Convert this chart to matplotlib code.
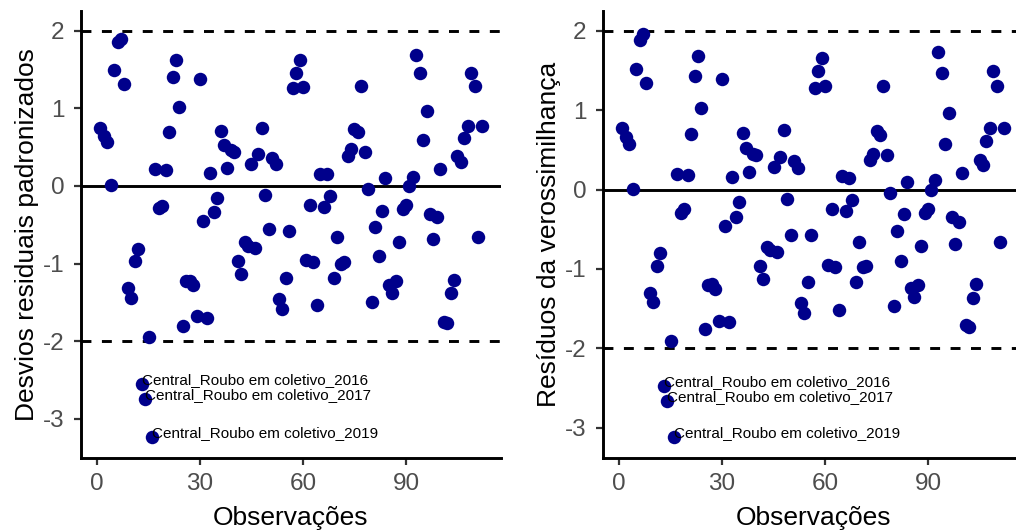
"""
Gráfico de resíduos do modelo: desvios residuais padronizados e
resíduos da verossimilhança contra o índice das observações.
"""

import numpy as np
import matplotlib
matplotlib.use("Agg")
import matplotlib.pyplot as plt

plt.rcParams['font.family'] = ['Liberation Sans', 'DejaVu Sans']
plt.rcParams['axes.unicode_minus'] = False

# ─── Dados ───
observacoes = np.arange(1, 113)

desvios_padronizados = [
    0.75, 0.64, 0.57, 0.01, 1.49, 1.85, 1.89, 1.32, -1.31, -1.44,
    -0.97, -0.81, -2.55, -2.75, -1.95, -3.24, 0.22, -0.29, -0.26, 0.20,
    0.69, 1.40, 1.63, 1.02, -1.80, -1.22, -1.23, -1.28, -1.68, 1.38,
    -0.45, -1.70, 0.17, -0.34, -0.16, 0.71, 0.53, 0.23, 0.46, 0.44,
    -0.97, -1.14, -0.72, -0.77, 0.28, -0.80, 0.41, 0.75, -0.12, -0.56,
    0.36, 0.28, -1.46, -1.58, -1.18, -0.58, 1.26, 1.46, 1.63, 1.28,
    -0.96, -0.25, -0.98, -1.54, 0.16, -0.27, 0.15, -0.13, -1.18, -0.66,
    -1.00, -0.98, 0.38, 0.48, 0.74, 0.69, 1.29, 0.44, -0.04, -1.49,
    -0.53, -0.90, -0.32, 0.10, -1.28, -1.38, -1.23, -0.72, -0.30, -0.24,
    0.00, 0.11, 1.69, 1.45, 0.59, 0.97, -0.36, -0.69, -0.40, 0.22,
    -1.75, -1.77, -1.38, -1.21, 0.39, 0.31, 0.62, 0.77, 1.46, 1.29,
    -0.66, 0.77,
]

residuos_verossimilhanca = [
    0.77, 0.66, 0.57, 0.01, 1.52, 1.89, 1.96, 1.34, -1.30, -1.42,
    -0.96, -0.80, -2.47, -2.66, -1.91, -3.12, 0.20, -0.29, -0.25, 0.19,
    0.70, 1.43, 1.68, 1.03, -1.76, -1.20, -1.19, -1.25, -1.65, 1.39,
    -0.46, -1.67, 0.16, -0.34, -0.16, 0.71, 0.53, 0.22, 0.45, 0.44,
    -0.96, -1.12, -0.72, -0.76, 0.28, -0.78, 0.41, 0.75, -0.12, -0.57,
    0.36, 0.27, -1.43, -1.55, -1.16, -0.57, 1.28, 1.49, 1.66, 1.30,
    -0.95, -0.25, -0.97, -1.52, 0.17, -0.27, 0.15, -0.13, -1.16, -0.66,
    -0.98, -0.96, 0.37, 0.45, 0.74, 0.69, 1.31, 0.44, -0.04, -1.46,
    -0.52, -0.90, -0.31, 0.09, -1.24, -1.35, -1.20, -0.71, -0.29, -0.24,
    0.00, 0.12, 1.73, 1.47, 0.58, 0.97, -0.35, -0.69, -0.41, 0.21,
    -1.71, -1.73, -1.36, -1.19, 0.37, 0.31, 0.61, 0.77, 1.49, 1.31,
    -0.66, 0.77,
]

# observações destacadas (|resíduo| > 2) e seus rótulos
obs_destacadas = [13, 14, 16]
rotulos = [
    "Central_Roubo em coletivo_2016",
    "Central_Roubo em coletivo_2017",
    "Central_Roubo em coletivo_2019",
]

titulos_y = ["Desvios residuais padronizados", "Resíduos da verossimilhança"]
xticks = [0, 30, 60, 90]
yticks = [-3, -2, -1, 0, 1, 2]
limite = 2

COR_PONTO = '#00008B'
COR_TEXTO_EIXO = '#4D4D4D'


def desenha_painel(ax, x, y, titulo_y):
    """Desenha um painel de resíduos no estilo theme_classic."""
    x = np.asarray(x)
    y = np.asarray(y)

    ax.axhline(0, color='black', lw=2.1, zorder=1)
    for nivel in (-limite, limite):
        ax.axhline(nivel, color='black', lw=2.1, ls=(0, (3.4, 3.6)), zorder=1)

    ax.scatter(x, y, s=94, color=COR_PONTO, linewidths=0, zorder=2)

    for obs, rotulo in zip(obs_destacadas, rotulos):
        i = obs - 1
        ax.annotate(rotulo, (x[i], y[i]), xytext=(0, 3),
                    textcoords='offset points', ha='left', va='center',
                    fontsize=11, color='black', zorder=3)

    # limites com expansão de 5% (inclui as linhas de referência)
    lo, hi = min(y.min(), -limite), max(y.max(), limite)
    dy = 0.05 * (hi - lo)
    dx = 0.05 * (x.max() - x.min())
    ax.set_xlim(x.min() - dx, x.max() + dx)
    ax.set_ylim(lo - dy, hi + dy)

    ax.set_xticks(xticks)
    ax.set_yticks(yticks)
    ax.tick_params(length=5, width=1.6, color='#333333',
                   labelsize=17.5, labelcolor=COR_TEXTO_EIXO)
    ax.tick_params(axis='y', pad=7)
    ax.tick_params(axis='x', pad=6)

    for lado in ('top', 'right'):
        ax.spines[lado].set_visible(False)
    for lado in ('left', 'bottom'):
        ax.spines[lado].set_linewidth(2.1)
        ax.spines[lado].set_color('black')

    ax.set_xlabel("Observações", fontsize=19, labelpad=8)
    ax.set_ylabel(titulo_y, fontsize=19, labelpad=3)


fig = plt.figure(figsize=(10.16, 5.31), dpi=100)
ax1 = fig.add_axes([0.0801, 0.1382, 0.4126, 0.8420])
ax2 = fig.add_axes([0.5939, 0.1382, 0.4126, 0.8420])

desenha_painel(ax1, observacoes, desvios_padronizados, titulos_y[0])
desenha_painel(ax2, observacoes, residuos_verossimilhanca, titulos_y[1])

fig.savefig('out.png', dpi=100)
